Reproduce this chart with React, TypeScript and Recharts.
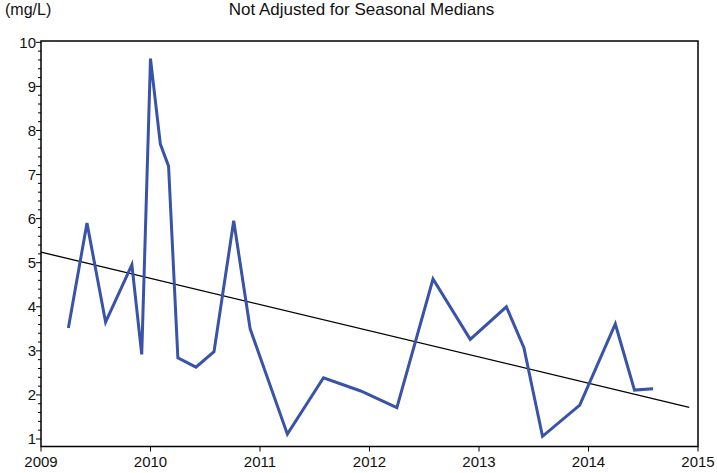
import { LineChart, Line, XAxis, YAxis, ReferenceLine, ReferenceArea } from "recharts";

// sample dates (decimal years) and concentrations in mg/L
const dates = [
  2009.25, 2009.42, 2009.59, 2009.83, 2009.92, 2010.0, 2010.09, 2010.165, 2010.25,
  2010.415, 2010.58, 2010.76, 2010.91, 2011.25, 2011.58, 2011.92, 2012.25, 2012.58,
  2012.92, 2013.25, 2013.41, 2013.58, 2013.92, 2014.245, 2014.42, 2014.59,
];
const values = [
  3.52, 5.9, 3.65, 4.95, 2.92, 9.63, 7.69, 7.19, 2.84,
  2.63, 2.98, 5.95, 3.5, 1.11, 2.39, 2.09, 1.71, 4.63,
  3.26, 4.0, 3.07, 1.06, 1.77, 3.61, 2.11, 2.14,
];
// trend line end points
const trendX = [2009, 2014.92];
const trendY = [5.24, 1.72];

const xTicks = [2009, 2010, 2011, 2012, 2013, 2014, 2015];
const yMajor = [1, 2, 3, 4, 5, 6, 7, 8, 9, 10];
const yTicks = yMajor.flatMap(t => (t < 10 ? [t, t + 0.2, t + 0.4, t + 0.6, t + 0.8] : [t]));

const data = dates.map((d, i) => ({ date: d, value: values[i] }));

const FONT = "'Liberation Sans', Arial, sans-serif";

const YTick = (props: any) => {
  const { x, y, payload } = props;
  const v = payload.value;
  const major = Math.abs(v - Math.round(v)) < 1e-6;
  return (
    <g>
      <line x1={x - (major ? 5 : 3)} x2={x} y1={y} y2={y} stroke="#000" strokeWidth={1} />
      {major && (
        <text x={x - 5} y={y} dy="0.35em" textAnchor="end" fontSize={15} fontFamily={FONT} fill="#111">
          {Math.round(v)}
        </text>
      )}
    </g>
  );
};

const XTick = (props: any) => {
  const { x, y, payload } = props;
  return (
    <g>
      <line x1={x} x2={x} y1={y} y2={y + 5} stroke="#000" strokeWidth={1} />
      <text x={x} y={y + 20} textAnchor="middle" fontSize={15} fontFamily={FONT} fill="#111">
        {payload.value}
      </text>
    </g>
  );
};

export default function App() {
  return (
    <div style={{ position: "absolute", left: 0, top: 0, width: 717, height: 473, background: "#fff" }}>
      <div style={{ position: "absolute", left: 5, top: 1, fontSize: 16, fontFamily: FONT, color: "#111" }}>
        (mg/L)
      </div>
      <div style={{ position: "absolute", left: 0, width: 723, top: 0, textAlign: "center", fontSize: 17, fontFamily: FONT, color: "#111" }}>
        Not Adjusted for Seasonal Medians
      </div>
      <LineChart
        width={717}
        height={473}
        data={data}
        margin={{ top: 41, right: 19, bottom: 0, left: 0 }}
      >
        <XAxis
          dataKey="date"
          type="number"
          domain={[2009, 2015]}
          ticks={xTicks}
          allowDataOverflow
          axisLine={false}
          tickLine={false}
          tickSize={0}
          tickMargin={0}
          height={26.5}
          tick={<XTick />}
          interval={0}
        />
        <YAxis
          type="number"
          domain={[0.83, 10.03]}
          ticks={yTicks}
          allowDataOverflow
          axisLine={false}
          tickLine={false}
          tickSize={0}
          tickMargin={0}
          width={41}
          tick={<YTick />}
          interval={0}
        />
        <ReferenceArea
          x1={2009}
          x2={2015}
          y1={0.83}
          y2={10.03}
          fill="none"
          fillOpacity={0}
          stroke="#000"
          strokeWidth={1.5}
          ifOverflow="extendDomain"
        />
        <ReferenceLine
          segment={[{ x: trendX[0], y: trendY[0] }, { x: trendX[1], y: trendY[1] }]}
          stroke="#000"
          strokeWidth={1.3}
        />
        <Line
          type="linear"
          dataKey="value"
          stroke="#3853a8"
          strokeWidth={3}
          dot={false}
          isAnimationActive={false}
        />
      </LineChart>
    </div>
  );
}
